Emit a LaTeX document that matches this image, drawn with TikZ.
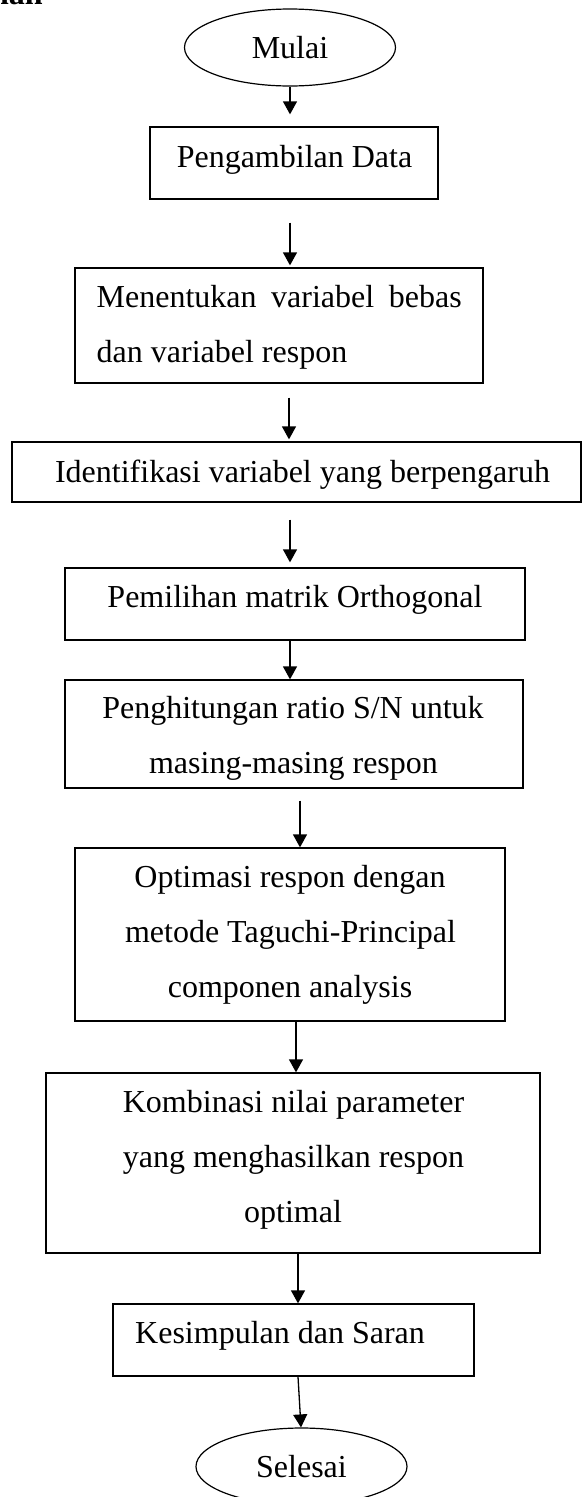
\documentclass[tikz,border=0pt]{standalone}
\usepackage{fontspec}
\setmainfont{Liberation Serif}
\usetikzlibrary{shapes.geometric,arrows.meta}
\begin{document}
\begin{tikzpicture}[x=1pt,y=-1pt,
  box/.style={draw, line width=1.3pt, inner sep=0pt},
  oval/.style={draw, ellipse, line width=1.2pt, inner sep=0pt,
    minimum width=211pt, minimum height=77pt, font=\fontsize{32}{38}\selectfont},
  txt/.style={inner sep=0pt, anchor=base, font=\fontsize{32}{38}\selectfont},
  arr/.style={line width=1.3pt, -{Triangle[length=13pt,width=14pt]}}]
\useasboundingbox (0,0) rectangle (582,1497);
\fill[white] (0,0) rectangle (582,1497);

% cut-off heading fragment
\node[inner sep=0pt, anchor=base east, font=\fontsize{32}{38}\selectfont\bfseries] (head) at (43,4) {han};

% shapes
\node[oval] (mulai) at (290,47.5) {Mulai};
\node[box, minimum width=288pt, minimum height=72pt] (pd) at (294,163) {};
\node[box, minimum width=408pt, minimum height=115pt] (men) at (279,325.5) {};
\node[box, minimum width=569pt, minimum height=60pt] (idf) at (296.5,472) {};
\node[box, minimum width=460pt, minimum height=72pt] (pem) at (295,604) {};
\node[box, minimum width=458pt, minimum height=108pt] (phg) at (294,734) {};
\node[box, minimum width=430pt, minimum height=173pt] (opt) at (290,934.5) {};
\node[box, minimum width=494pt, minimum height=180pt] (kom) at (293,1163) {};
\node[box, minimum width=361pt, minimum height=72pt] (kes) at (293.5,1340) {};
\node[oval] (sel) at (301.5,1466.5) {Selesai};

% texts
\node[txt] (tpd) at (294.5,167) {Pengambilan Data};
\node[txt, anchor=base west] (tmen1) at (96.5,307) {\makebox[365pt][s]{Menentukan variabel bebas}};
\node[txt, anchor=base west] (tmen2) at (96.5,362) {dan variabel respon};
\node[txt] (tidf) at (302.5,482) {Identifikasi variabel yang berpengaruh};
\node[txt] (tpem) at (295,607) {Pemilihan matrik Orthogonal};
\node[txt] (tphg1) at (293,718) {Penghitungan ratio S/N untuk};
\node[txt] (tphg2) at (293.5,773) {masing-masing respon};
\node[txt] (topt1) at (290,887) {Optimasi respon dengan};
\node[txt] (topt2) at (290.5,942) {metode Taguchi-Principal};
\node[txt] (topt3) at (290,997) {componen analysis};
\node[txt] (tkom1) at (293.5,1112) {Kombinasi nilai parameter};
\node[txt] (tkom2) at (293.5,1167) {yang menghasilkan respon};
\node[txt] (tkom3) at (293,1222) {optimal};
\node[txt, anchor=base west] (tkes) at (135,1343) {Kesimpulan dan Saran};

% connectors
\draw[arr] (mulai.south) -- ([xshift=-4pt,yshift=12pt]pd.north);
\draw[arr] ([xshift=-4pt,yshift=-23pt]pd.south) -- ([xshift=11pt,yshift=2pt]men.north);
\draw[arr] ([xshift=10pt,yshift=-14pt]men.south) -- ([xshift=-7.5pt,yshift=2pt]idf.north);
\draw[arr] ([xshift=-6.5pt,yshift=-17pt]idf.south) -- ([xshift=-5pt,yshift=5pt]pem.north);
\draw[arr] ([xshift=-5pt]pem.south) -- ([xshift=-4pt]phg.north);
\draw[arr] ([xshift=6pt,yshift=-12pt]phg.south) -- ([xshift=10pt]opt.north);
\draw[arr] ([xshift=6pt]opt.south) -- ([xshift=3pt]kom.north);
\draw[arr] ([xshift=5pt]kom.south) -- ([xshift=4.5pt]kes.north);
\draw[arr] ([xshift=4.5pt]kes.south) -- ([xshift=-0.5pt]sel.north);
\end{tikzpicture}
\end{document}
